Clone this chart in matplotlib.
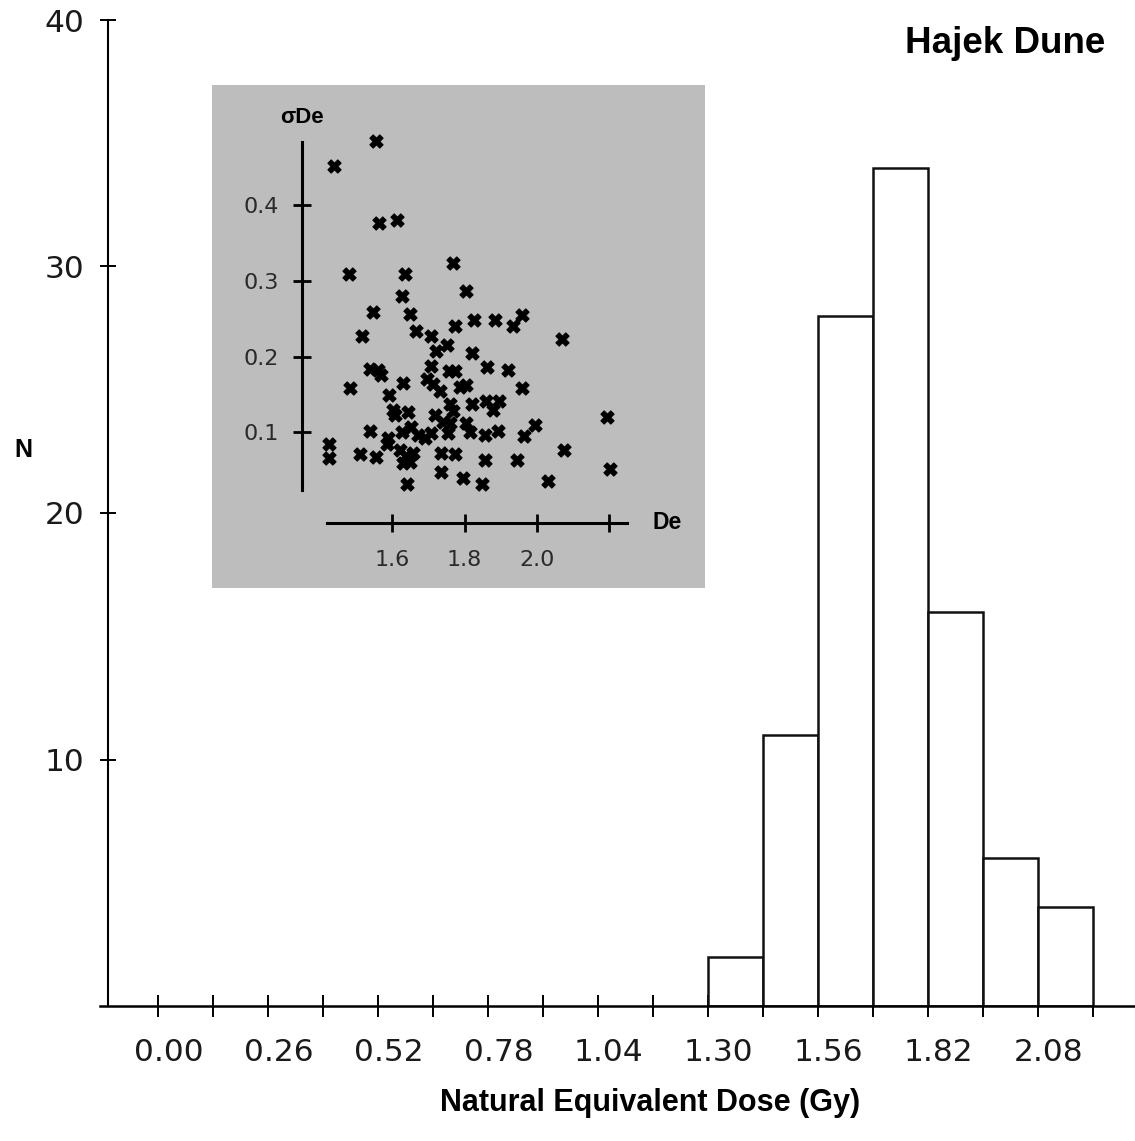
import matplotlib
matplotlib.use("Agg")
import matplotlib.pyplot as plt
from matplotlib.transforms import ScaledTranslation

# Histogram of natural equivalent dose (Gy)
bin_left = [1.30, 1.43, 1.56, 1.69, 1.82, 1.95, 2.08]
bin_width = 0.13
counts = [2, 11, 28, 34, 16, 6, 4]

x_ticks = [0.00, 0.13, 0.26, 0.39, 0.52, 0.65, 0.78, 0.91, 1.04, 1.17,
           1.30, 1.43, 1.56, 1.69, 1.82, 1.95, 2.08, 2.21]
x_ticklabels = ["0.00", "", "0.26", "", "0.52", "", "0.78", "", "1.04", "",
                "1.30", "", "1.56", "", "1.82", "", "2.08", ""]
y_ticks = [10, 20, 30, 40]

# Inset: standard error of De against De for each aliquot
de = [1.555, 1.438, 1.563, 1.614, 1.481, 1.636, 1.769, 1.628, 1.803, 1.547,
      1.650, 1.517, 1.665, 1.706, 1.774, 1.827, 1.884, 1.935, 1.959, 2.068,
      1.752, 1.722, 1.819, 1.708, 1.539, 1.561, 1.568, 1.757, 1.772, 1.862,
      1.921, 1.482, 1.630, 1.696, 1.713, 1.731, 1.788, 1.803, 1.959, 1.592,
      1.759, 1.768, 1.819, 1.860, 1.896, 1.878, 1.603, 1.607, 1.644, 1.717,
      1.740, 1.759, 1.805, 1.814, 2.194, 1.539, 1.626, 1.653, 1.672, 1.690,
      1.708, 1.754, 1.855, 1.892, 1.995, 1.965, 1.424, 1.424, 1.511, 1.555,
      1.589, 1.584, 1.621, 1.639, 1.658, 1.630, 1.649, 1.736, 1.772, 2.075,
      1.736, 1.795, 1.855, 1.944, 1.848, 1.641, 2.031, 2.201]
sigma_de = [0.485, 0.452, 0.377, 0.381, 0.309, 0.309, 0.324, 0.280, 0.287, 0.259,
            0.256, 0.227, 0.234, 0.228, 0.241, 0.248, 0.248, 0.240, 0.255, 0.223,
            0.216, 0.207, 0.205, 0.188, 0.184, 0.182, 0.176, 0.181, 0.181, 0.187,
            0.183, 0.159, 0.165, 0.170, 0.164, 0.155, 0.160, 0.162, 0.159, 0.149,
            0.137, 0.128, 0.137, 0.142, 0.142, 0.130, 0.130, 0.123, 0.127, 0.123,
            0.114, 0.112, 0.112, 0.100, 0.120, 0.102, 0.101, 0.107, 0.096, 0.092,
            0.099, 0.099, 0.096, 0.102, 0.110, 0.095, 0.085, 0.066, 0.071, 0.067,
            0.092, 0.085, 0.077, 0.068, 0.072, 0.059, 0.061, 0.072, 0.071, 0.077,
            0.047, 0.039, 0.063, 0.063, 0.032, 0.032, 0.036, 0.052]
inset_xticks = [1.6, 1.8, 2.0, 2.2]
inset_xticklabels = ["1.6", "1.8", "2.0", ""]
inset_yticks = [0.1, 0.2, 0.3, 0.4]
inset_yticklabels = ["0.1", "0.2", "0.3", "0.4"]

W, H = 1135, 1141
DPI = 100
fig = plt.figure(figsize=(W / DPI, H / DPI), dpi=DPI)
fig.patch.set_facecolor("white")

TICK_FONT = "DejaVu Sans"
BOLD_FONT = "Liberation Sans"


def px_box(left, top, right, bottom):
    return [left / W, (H - bottom) / H, (right - left) / W, (bottom - top) / H]


# ---- main histogram ----
ax = fig.add_axes(px_box(100, 20, 1135, 1006))
ax.set_xlim(-0.1383, 2.309)
ax.set_ylim(0, 40)
ax.set_facecolor("none")
ax.bar(bin_left, counts, width=bin_width, align="edge",
       facecolor="white", edgecolor="#111111", linewidth=1.8, zorder=3)

for side in ("top", "right"):
    ax.spines[side].set_visible(False)
ax.spines["left"].set_position(("data", -0.1194))
ax.spines["left"].set_bounds(0, 40)
ax.spines["left"].set_linewidth(1.5)
ax.spines["bottom"].set_linewidth(1.8)
ax.spines["bottom"].set_zorder(4)

ax.set_xticks(x_ticks)
ax.set_xticklabels(x_ticklabels, fontfamily=TICK_FONT, fontsize=22.5,
                   color="#1a1a1a")
ax.set_yticks(y_ticks)
ax.set_yticklabels([str(v) for v in y_ticks], fontfamily=TICK_FONT,
                   fontsize=22.5, color="#1a1a1a")
ax.tick_params(axis="x", direction="inout", length=16, width=1.4, pad=15)
ax.tick_params(axis="y", direction="inout", length=12, width=1.4, pad=11)
shift = ScaledTranslation(10 / DPI, 0, fig.dpi_scale_trans)
for lab in ax.get_xticklabels():
    lab.set_transform(lab.get_transform() + shift)

fig.text(23 / W, 1 - 450 / H, "N", fontfamily=BOLD_FONT, fontweight="bold",
         fontsize=18, ha="center", va="center")
fig.text(650 / W, 1 - 1103 / H, "Natural Equivalent Dose (Gy)",
         fontfamily=BOLD_FONT, fontweight="bold", fontsize=22,
         ha="center", va="center")
fig.text(905 / W, 1 - 53 / H, "Hajek Dune", fontfamily=BOLD_FONT,
         fontweight="bold", fontsize=26.5, ha="left", va="baseline")

# ---- inset scatter ----
ins = fig.add_axes(px_box(212, 85, 705, 588))
ins.set_facecolor("#bdbdbd")
ins.set_xlim(1.1015, 2.4645)
ins.set_ylim(-0.106, 0.5594)
ins.scatter(de, sigma_de, marker="X", s=90, color="black",
            edgecolors="black", linewidths=0.8, zorder=3, clip_on=False)
for side in ("top", "right"):
    ins.spines[side].set_visible(False)
ins.spines["left"].set_position(("data", 1.3503))
ins.spines["left"].set_bounds(0.024, 0.484)
ins.spines["bottom"].set_position(("data", -0.0196))
ins.spines["bottom"].set_bounds(1.4195, 2.248)
for side in ("left", "bottom"):
    ins.spines[side].set_linewidth(2.2)
ins.set_xticks(inset_xticks)
ins.set_xticklabels(inset_xticklabels, fontfamily=TICK_FONT, fontsize=16,
                    color="#2a2a2a")
ins.set_yticks(inset_yticks)
ins.set_yticklabels(inset_yticklabels, fontfamily=TICK_FONT, fontsize=16,
                    color="#2a2a2a")
ins.tick_params(axis="both", direction="inout", length=13.5, width=2.0)
ins.tick_params(axis="x", pad=13)
ins.tick_params(axis="y", pad=10)

ins.text(1.3503, 0.517, "σDe", fontfamily=BOLD_FONT, fontweight="bold",
         fontsize=16, ha="center", va="center")
ins.text(2.32, -0.0196, "De", fontfamily=BOLD_FONT, fontweight="bold",
         fontsize=16.5, ha="left", va="center")

fig.savefig("out.png", dpi=DPI, facecolor="white")
